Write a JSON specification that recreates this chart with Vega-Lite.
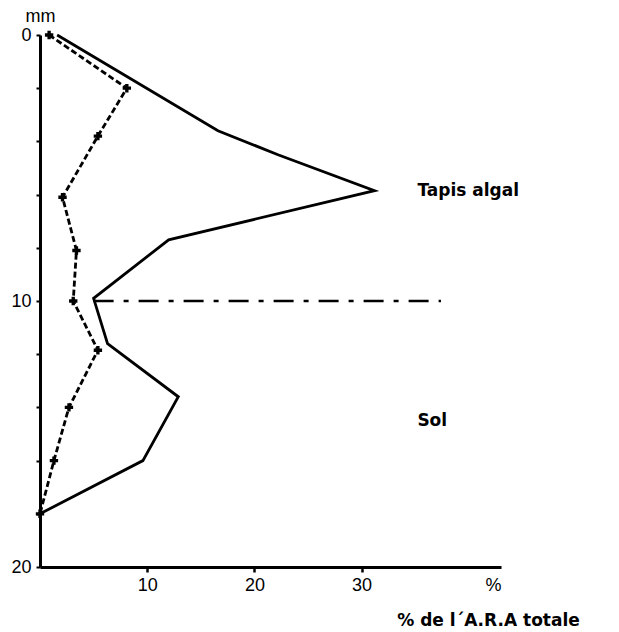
{
  "$schema": "https://vega.github.io/schema/vega-lite/v6.json",
  "width": 461,
  "height": 532,
  "autosize": {"type": "none"},
  "padding": {"left": 40, "top": 35, "right": 118, "bottom": 65},
  "background": "white",
  "config": {"view": {"stroke": null}},
  "datasets": {
    "total": [
      {"ara": 1.6, "depth": 0},
      {"ara": 16.6, "depth": 3.6},
      {"ara": 22.2, "depth": 4.5},
      {"ara": 31.2, "depth": 5.85},
      {"ara": 12.0, "depth": 7.7},
      {"ara": 5.0, "depth": 9.9},
      {"ara": 6.3, "depth": 11.6},
      {"ara": 12.9, "depth": 13.6},
      {"ara": 9.6, "depth": 16.0},
      {"ara": 0, "depth": 18}
    ],
    "second": [
      {"ara": 0.85, "depth": 0},
      {"ara": 8.1, "depth": 2.0},
      {"ara": 5.4, "depth": 3.8},
      {"ara": 2.1, "depth": 6.1},
      {"ara": 3.4, "depth": 8.1},
      {"ara": 3.1, "depth": 10.0},
      {"ara": 5.4, "depth": 11.85},
      {"ara": 2.7, "depth": 14.0},
      {"ara": 1.3, "depth": 16.0},
      {"ara": 0, "depth": 18}
    ],
    "boundary": [
      {"ara": 5.0, "depth": 10},
      {"ara": 37.4, "depth": 10}
    ],
    "labels": [
      {"ara": 35.2, "depth": 5.85, "label": "Tapis algal"},
      {"ara": 35.2, "depth": 14.5, "label": "Sol"}
    ]
  },
  "encoding": {
    "x": {
      "field": "ara", "type": "quantitative",
      "scale": {"domain": [0, 43], "nice": false, "zero": true},
      "axis": {
        "values": [10, 20, 30, 43],
        "labelExpr": "datum.value == 43 ? '%' : datum.label",
        "grid": false,
        "domainColor": "black", "domainWidth": 3,
        "tickColor": {"condition": {"test": "datum.value == 43", "value": "transparent"}, "value": "black"},
        "tickWidth": 2.5, "tickSize": 5,
        "labelFont": "Liberation Sans", "labelFontSize": 18, "labelColor": "black",
        "labelPadding": 4, "labelBaseline": "top",
        "title": "% de l´A.R.A totale",
        "titleFont": "DejaVu Sans", "titleFontWeight": "bold", "titleFontSize": 17,
        "titleColor": "black",
        "titleX": 448, "titleY": 53, "titleAlign": "center", "titleBaseline": "middle", "titleAnchor": null
      }
    },
    "y": {
      "field": "depth", "type": "quantitative",
      "scale": {"domain": [0, 20], "nice": false, "reverse": true},
      "axis": {
        "values": [0, 2, 4, 6, 8, 10, 12, 14, 16, 18, 20],
        "labelExpr": "(datum.value % 10 == 0) ? datum.label : ''",
        "grid": false,
        "domainColor": "black", "domainWidth": 3,
        "tickColor": "black", "tickWidth": 2, "tickSize": 4,
        "labelFont": "Liberation Sans", "labelFontSize": 18, "labelColor": "black",
        "labelPadding": 5,
        "title": "mm",
        "titleFont": "Liberation Sans", "titleFontWeight": "normal", "titleFontSize": 18,
        "titleColor": "black", "titleAngle": 0,
        "titleX": 0, "titleY": -19, "titleAlign": "center", "titleBaseline": "middle"
      }
    }
  },
  "layer": [
    {
      "data": {"name": "boundary"},
      "mark": {"type": "line", "color": "black", "strokeWidth": 2.4, "strokeDash": [20, 10, 5, 10]},
      "encoding": {"order": {"field": "ara"}}
    },
    {
      "data": {"name": "total"},
      "mark": {"type": "line", "color": "black", "strokeWidth": 2.8, "strokeJoin": "miter"},
      "encoding": {"order": {"field": "depth"}}
    },
    {
      "data": {"name": "second"},
      "mark": {"type": "line", "color": "black", "strokeWidth": 2.8, "strokeDash": [6, 3]},
      "encoding": {"order": {"field": "depth"}}
    },
    {
      "data": {"name": "second"},
      "mark": {"type": "point", "shape": "cross", "filled": true, "color": "black", "size": 70, "opacity": 1}
    },
    {
      "data": {"name": "labels"},
      "mark": {"type": "text", "align": "left", "baseline": "middle", "font": "DejaVu Sans", "fontWeight": "bold", "fontSize": 17, "color": "black"},
      "encoding": {"text": {"field": "label"}}
    }
  ]
}
